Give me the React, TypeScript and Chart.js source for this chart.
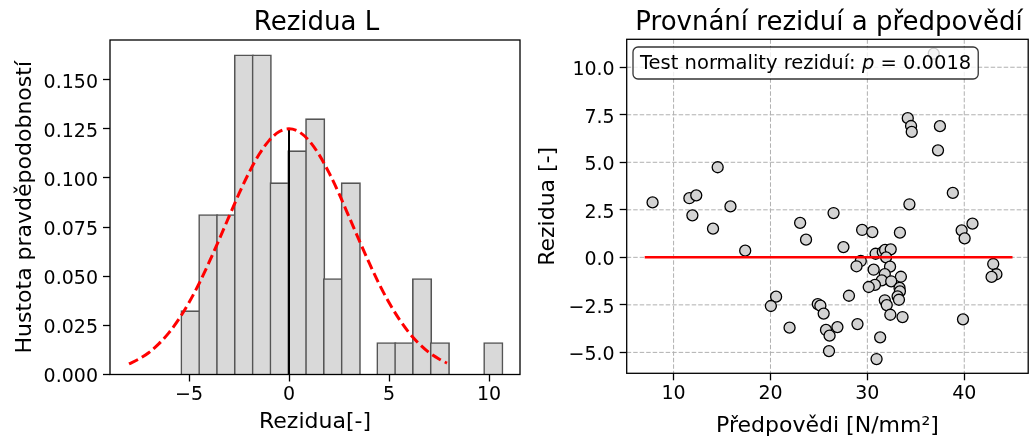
import React, { useEffect, useRef } from 'react';
import { Chart, registerables } from 'chart.js';

Chart.register(...registerables);

const FONT = "'DejaVu Sans', 'Liberation Sans', sans-serif";

// ---------- Left panel: histogram of residuals ----------
const HIST_TITLE = 'Rezidua L';
const HIST_X_LABEL = 'Rezidua[-]';
const HIST_Y_LABEL = 'Hustota pravděpodobností';
const BIN_CENTERS = [-4.925, -4.034, -3.144, -2.253, -1.362, -0.472, 0.419, 1.310, 2.200, 3.091, 3.981, 4.872, 5.763, 6.653, 7.544, 8.434, 9.325, 10.216];
const BIN_DENSITY = [0.0325, 0.0814, 0.0814, 0.1627, 0.1627, 0.0976, 0.1139, 0.1302, 0.0488, 0.0976, 0, 0.0163, 0.0163, 0.0488, 0.0163, 0, 0, 0.0163];
const CURVE_X = [-8, -7.5, -7, -6.5, -6, -5.5, -5, -4.5, -4, -3.5, -3, -2.5, -2, -1.5, -1, -0.5, 0, 0.5, 1, 1.5, 2, 2.5, 3, 3.5, 4, 4.5, 5, 5.5, 6, 6.5, 7, 7.5, 7.9];
const CURVE_Y = [0.0054, 0.0079, 0.0112, 0.0157, 0.0213, 0.0283, 0.0366, 0.0462, 0.057, 0.0685, 0.0803, 0.092, 0.1027, 0.1119, 0.119, 0.1235, 0.125, 0.1235, 0.119, 0.1119, 0.1027, 0.092, 0.0803, 0.0685, 0.057, 0.0462, 0.0366, 0.0283, 0.0213, 0.0157, 0.0112, 0.0079, 0.0058];
const ZERO_X = [0, 0];
const ZERO_Y = [0, 0.1253];
const HIST_X_TICKS = [-5, 0, 5, 10];
const HIST_Y_TICKS = [0, 0.025, 0.05, 0.075, 0.1, 0.125, 0.15];

// ---------- Right panel: residuals vs predictions ----------
const SC_TITLE = 'Provnání reziduí a předpovědí';
const SC_X_LABEL = 'Předpovědi [N/mm²]';
const SC_Y_LABEL = 'Rezidua [-]';
const PRED = [36.85, 34.17, 34.51, 34.58, 37.49, 37.29, 14.55, 7.83, 11.63, 12.34, 11.94, 15.87, 14.07, 17.39, 38.82, 34.34, 26.51, 23.06, 23.67, 29.46, 30.51, 33.36, 39.73, 40.85, 40.04, 27.53, 30.85, 31.59, 31.83, 32.41, 31.93, 29.32, 28.88, 32.34, 30.65, 31.8, 33.46, 31.49, 32.46, 30.78, 30.14, 33.32, 33.36, 33.12, 33.26, 31.8, 32.0, 32.37, 33.63, 28.1, 28.98, 31.32, 30.95, 39.87, 42.99, 43.32, 42.82, 20.58, 20.04, 21.97, 24.88, 25.15, 25.49, 25.73, 26.1, 26.91, 26.04];
const RESID = [10.72, 7.32, 6.91, 6.6, 6.9, 5.63, 4.74, 2.89, 3.11, 3.26, 2.21, 2.68, 1.51, 0.35, 3.39, 2.79, 2.33, 1.81, 0.93, 1.44, 1.33, 1.3, 1.42, 1.77, 1.0, 0.54, 0.19, 0.28, 0.39, 0.42, 0.0, -0.19, -0.47, -0.49, -0.65, -0.88, -1.02, -1.21, -1.26, -1.45, -1.56, -1.61, -1.79, -2.05, -2.23, -2.26, -2.51, -3.02, -3.14, -2.02, -3.51, -4.21, -5.35, -3.26, -0.35, -0.89, -1.03, -2.07, -2.56, -3.7, -2.46, -2.54, -2.96, -3.82, -4.12, -3.67, -4.93];
const HLINE_X = [7.02, 44.98];
const HLINE_Y = [0, 0];
const SC_X_TICKS = [10, 20, 30, 40];
const SC_Y_TICKS = [-5, -2.5, 0, 2.5, 5, 7.5, 10];
const BOX_TEXT_A = 'Test normality reziduí: ';
const BOX_TEXT_P = 'p';
const BOX_TEXT_B = ' = 0.0018';

const minus = (s: string) => s.replace('-', '\u2212');

function framePlugin(title: string) {
  return {
    id: 'frameAndTitle',
    afterDatasetsDraw(chart: any) {
      const { ctx, chartArea: a } = chart;
      ctx.save();
      ctx.strokeStyle = '#000';
      ctx.lineWidth = 1.3;
      ctx.strokeRect(a.left, a.top, a.right - a.left, a.bottom - a.top);
      ctx.restore();
    },
    afterDraw(chart: any) {
      const { ctx, chartArea: a } = chart;
      ctx.save();
      ctx.font = `26px ${FONT}`;
      ctx.fillStyle = '#000';
      ctx.textAlign = 'center';
      ctx.textBaseline = 'alphabetic';
      ctx.fillText(title, (a.left + a.right) / 2 + 1.5, 29.5);
      ctx.restore();
    },
  };
}

const gridPlugin = {
  id: 'dashGrid',
  beforeDatasetsDraw(chart: any) {
    const { ctx, chartArea: a, scales } = chart;
    ctx.save();
    ctx.strokeStyle = '#b0b0b0';
    ctx.lineWidth = 1;
    ctx.setLineDash([4.5, 2]);
    SC_X_TICKS.forEach((v) => {
      const px = scales.x.getPixelForValue(v);
      ctx.beginPath();
      ctx.moveTo(px, a.top);
      ctx.lineTo(px, a.bottom);
      ctx.stroke();
    });
    SC_Y_TICKS.forEach((v) => {
      const py = scales.y.getPixelForValue(v);
      ctx.beginPath();
      ctx.moveTo(a.left, py);
      ctx.lineTo(a.right, py);
      ctx.stroke();
    });
    ctx.restore();
  },
};

const boxPlugin = {
  id: 'textBox',
  afterDatasetsDraw(chart: any) {
    const { ctx, chartArea: a } = chart;
    ctx.save();
    const normal = `19.5px ${FONT}`;
    const italic = `italic 19.5px ${FONT}`;
    ctx.font = normal;
    const w1 = ctx.measureText(BOX_TEXT_A).width;
    const w3 = ctx.measureText(BOX_TEXT_B).width;
    ctx.font = italic;
    const w2 = ctx.measureText(BOX_TEXT_P).width;
    const pad = 7;
    const bx = a.left + 6.3;
    const by = a.top + 7.7;
    const bw = w1 + w2 + w3 + 2 * pad;
    const bh = 32;
    const r = 5;
    ctx.beginPath();
    ctx.moveTo(bx + r, by);
    ctx.arcTo(bx + bw, by, bx + bw, by + bh, r);
    ctx.arcTo(bx + bw, by + bh, bx, by + bh, r);
    ctx.arcTo(bx, by + bh, bx, by, r);
    ctx.arcTo(bx, by, bx + bw, by, r);
    ctx.closePath();
    ctx.fillStyle = 'rgba(255,255,255,0.8)';
    ctx.fill();
    ctx.strokeStyle = 'rgba(0,0,0,0.8)';
    ctx.lineWidth = 1.3;
    ctx.stroke();
    ctx.fillStyle = '#000';
    ctx.textBaseline = 'alphabetic';
    ctx.textAlign = 'left';
    const ty = by + 22;
    let tx = bx + pad;
    ctx.font = normal;
    ctx.fillText(BOX_TEXT_A, tx, ty);
    tx += w1;
    ctx.font = italic;
    ctx.fillText(BOX_TEXT_P, tx, ty);
    tx += w2;
    ctx.font = normal;
    ctx.fillText(BOX_TEXT_B, tx, ty);
    ctx.restore();
  },
};

const tickGrid = {
  display: true,
  drawOnChartArea: false,
  drawTicks: true,
  offset: false,
  tickLength: 7,
  tickColor: '#000',
  tickWidth: 1.3,
};

export default function App() {
  const leftRef = useRef<HTMLCanvasElement | null>(null);
  const rightRef = useRef<HTMLCanvasElement | null>(null);

  useEffect(() => {
    const left = new Chart(leftRef.current as HTMLCanvasElement, {
      type: 'bar',
      data: {
        datasets: [
          {
            type: 'line',
            data: CURVE_X.map((x, i) => ({ x, y: CURVE_Y[i] })),
            borderColor: 'red',
            borderWidth: 3,
            borderDash: [10, 4.5],
            pointRadius: 0,
            cubicInterpolationMode: 'monotone',
            fill: false,
            order: 0,
          },
          {
            type: 'line',
            data: ZERO_X.map((x, i) => ({ x, y: ZERO_Y[i] })),
            borderColor: '#000',
            borderWidth: 2,
            pointRadius: 0,
            fill: false,
            order: 1,
          },
          {
            type: 'bar',
            data: BIN_CENTERS.map((x, i) => ({ x, y: BIN_DENSITY[i] })),
            backgroundColor: '#d9d9d9',
            borderColor: '#555555',
            borderWidth: 1.6,
            barThickness: 19.4,
            grouped: false,
            order: 2,
          },
        ] as any,
      },
      options: {
        responsive: false,
        animation: false,
        events: [],
        layout: { padding: { left: 0, right: 5, top: 40, bottom: 0 } },
        plugins: { legend: { display: false }, tooltip: { enabled: false }, title: { display: false } },
        scales: {
          x: {
            type: 'linear',
            min: -8.95,
            max: 11.55,
            offset: false,
            bounds: 'data',
            afterBuildTicks: (s: any) => {
              s.ticks = HIST_X_TICKS.map((v) => ({ value: v }));
            },
            afterFit: (s: any) => {
              s.height = 65.5;
            },
            grid: tickGrid,
            border: { display: false },
            ticks: {
              autoSkip: false,
              maxRotation: 0,
              padding: 2,
              color: '#000',
              font: { family: FONT, size: 19 },
              callback: (v: any) => minus(String(v)),
            },
            title: {
              display: true,
              text: HIST_X_LABEL,
              color: '#000',
              font: { family: FONT, size: 22 },
              padding: { top: 0, bottom: 4.3 },
            },
          },
          y: {
            type: 'linear',
            min: 0,
            max: 0.1702,
            bounds: 'data',
            afterBuildTicks: (s: any) => {
              s.ticks = HIST_Y_TICKS.map((v) => ({ value: v }));
            },
            afterFit: (s: any) => {
              s.width = 110;
            },
            grid: tickGrid,
            border: { display: false },
            ticks: {
              autoSkip: false,
              padding: 5,
              labelOffset: 3,
              color: '#000',
              font: { family: FONT, size: 19 },
              callback: (v: any) => Number(v).toFixed(3),
            },
            title: {
              display: true,
              text: HIST_Y_LABEL,
              color: '#000',
              font: { family: FONT, size: 22 },
              padding: { top: 11.6, bottom: 0 },
            },
          },
        },
      } as any,
      plugins: [framePlugin(HIST_TITLE)],
    });

    const right = new Chart(rightRef.current as HTMLCanvasElement, {
      type: 'scatter',
      data: {
        datasets: [
          {
            type: 'line',
            data: HLINE_X.map((x, i) => ({ x, y: HLINE_Y[i] })),
            borderColor: 'red',
            borderWidth: 2.5,
            pointRadius: 0,
            fill: false,
            order: 0,
          },
          {
            type: 'scatter',
            data: PRED.map((x, i) => ({ x, y: RESID[i] })),
            backgroundColor: '#d3d3d3',
            borderColor: '#000',
            borderWidth: 1.3,
            pointRadius: 5.5,
            order: 1,
          },
        ] as any,
      },
      options: {
        responsive: false,
        animation: false,
        events: [],
        layout: { padding: { left: 0, right: 1, top: 39.3, bottom: 0 } },
        plugins: { legend: { display: false }, tooltip: { enabled: false }, title: { display: false } },
        scales: {
          x: {
            type: 'linear',
            min: 5.16,
            max: 46.6,
            offset: false,
            bounds: 'data',
            afterBuildTicks: (s: any) => {
              s.ticks = SC_X_TICKS.map((v) => ({ value: v }));
            },
            afterFit: (s: any) => {
              s.height = 66.7;
            },
            grid: tickGrid,
            border: { display: false },
            ticks: {
              autoSkip: false,
              maxRotation: 0,
              padding: 2,
              color: '#000',
              font: { family: FONT, size: 19 },
              callback: (v: any) => minus(String(v)),
            },
            title: {
              display: true,
              text: SC_X_LABEL,
              color: '#000',
              font: { family: FONT, size: 22 },
              padding: { top: 0, bottom: 0.3 },
            },
          },
          y: {
            type: 'linear',
            min: -6.1,
            max: 11.47,
            bounds: 'data',
            afterBuildTicks: (s: any) => {
              s.ticks = SC_Y_TICKS.map((v) => ({ value: v }));
            },
            afterFit: (s: any) => {
              s.width = 101.7;
            },
            grid: tickGrid,
            border: { display: false },
            ticks: {
              autoSkip: false,
              padding: 5,
              labelOffset: 2.8,
              color: '#000',
              font: { family: FONT, size: 19 },
              callback: (v: any) => minus(Number(v).toFixed(1)),
            },
            title: {
              display: true,
              text: SC_Y_LABEL,
              color: '#000',
              font: { family: FONT, size: 22 },
              padding: { top: 10.5, bottom: 0 },
            },
          },
        },
      } as any,
      plugins: [gridPlugin, framePlugin(SC_TITLE), boxPlugin],
    });

    return () => {
      left.destroy();
      right.destroy();
    };
  }, []);

  return (
    <div
      style={{
        position: 'fixed',
        left: 0,
        top: 0,
        width: 1035,
        height: 440,
        overflow: 'hidden',
        background: '#fff',
      }}
    >
      <canvas ref={leftRef} width={525} height={440} style={{ position: 'absolute', left: 0, top: 0, width: 525, height: 440 }} />
      <canvas ref={rightRef} width={510} height={440} style={{ position: 'absolute', left: 525, top: 0, width: 510, height: 440 }} />
    </div>
  );
}
